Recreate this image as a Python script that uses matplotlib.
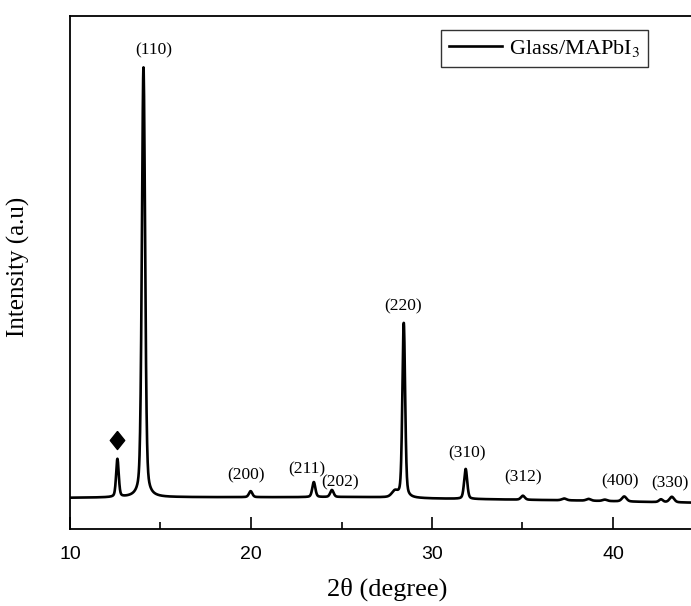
import numpy as np
import matplotlib

matplotlib.use("Agg")
import matplotlib.pyplot as plt
from matplotlib.ticker import MultipleLocator

plt.rcParams["mathtext.fontset"] = "stix"

# Reflections of the MAPbI3 film on glass: position (2θ), height above background, FWHM
peak_pos = [12.62, 14.06, 19.98, 23.47, 24.47, 27.95, 28.44, 31.86, 35.02, 37.3, 38.65, 39.55, 40.62, 42.65, 43.25]
peak_height = [380, 4300, 60, 150, 70, 60, 1750, 300, 40, 18, 18, 14, 50, 28, 55]
peak_fwhm = [0.17, 0.21, 0.22, 0.2, 0.22, 0.4, 0.18, 0.2, 0.25, 0.3, 0.3, 0.3, 0.3, 0.25, 0.3]

# Slowly varying background (counts) at anchor angles
bg_angle = [10, 16, 22, 26, 30, 34, 38, 42, 45]
bg_level = [312, 318, 318, 320, 305, 295, 285, 270, 262]

# Miller index labels and where they sit
hkl_text = ["(110)", "(200)", "(211)", "(202)", "(220)", "(310)", "(312)", "(400)", "(330)"]
hkl_x = [14.6, 19.7, 23.1, 24.9, 28.4, 31.93, 35.05, 40.4, 43.15]
hkl_y = [4790, 540, 600, 470, 2230, 760, 520, 480, 460]

# Substrate/PbI2 marker
mark_x, mark_y = 12.62, 890

two_theta = np.linspace(10, 45, 3500)
intensity = np.interp(two_theta, bg_angle, bg_level).astype(float)
eta = 0.35  # Lorentzian fraction of the pseudo-Voigt profile
for p, h, w in zip(peak_pos, peak_height, peak_fwhm):
    g = (w / 2) ** 2
    lor = g / ((two_theta - p) ** 2 + g)
    gau = np.exp(-4 * np.log(2) * (two_theta - p) ** 2 / w ** 2)
    intensity += h * (eta * lor + (1 - eta) * gau)

fig = plt.figure(figsize=(6.91, 6.06), dpi=100)
ax = fig.add_axes([70 / 691, 77 / 606, 633.5 / 691, 513 / 606])

ax.plot(two_theta, intensity, color="black", lw=1.9, label="Glass/MAPbI$_3$")

for t, x, y in zip(hkl_text, hkl_x, hkl_y):
    ax.text(x, y, t, ha="center", va="center", fontsize=12.5, family="Liberation Serif")

diamond = [(0, 1), (0.8, 0), (0, -1), (-0.8, 0), (0, 1)]
ax.plot(mark_x, mark_y, marker=diamond, color="black", markersize=13, linestyle="none")

ax.set_xlim(10, 45)
ax.set_ylim(0, 5130)
ax.xaxis.set_major_locator(MultipleLocator(10))
ax.xaxis.set_minor_locator(MultipleLocator(5))
ax.tick_params(axis="x", which="major", direction="in", length=9, width=1.2, labelsize=14, pad=12)
ax.tick_params(axis="x", which="minor", direction="in", length=5, width=1.2)
for lbl in ax.get_xticklabels():
    lbl.set_family("Liberation Sans")
ax.set_yticks([])
for s in ax.spines.values():
    s.set_linewidth(1.3)

ax.set_xlabel("2θ (degree)", fontsize=19, family="Liberation Serif", labelpad=11)
ax.set_ylabel("Intensity (a.u)", fontsize=18, family="Liberation Serif")
ax.yaxis.set_label_coords(-40 / 633.5, 0.51)

leg = ax.legend(loc="upper left", bbox_to_anchor=(371 / 633.5, (513 - 14) / 513),
                prop={"family": "Liberation Serif", "size": 16}, frameon=True, fancybox=False,
                handlelength=2.4, borderpad=0.35, handletextpad=0.3, borderaxespad=0)
leg.get_frame().set_edgecolor("black")
leg.get_frame().set_linewidth(1.0)

fig.savefig("out.png", dpi=100)
